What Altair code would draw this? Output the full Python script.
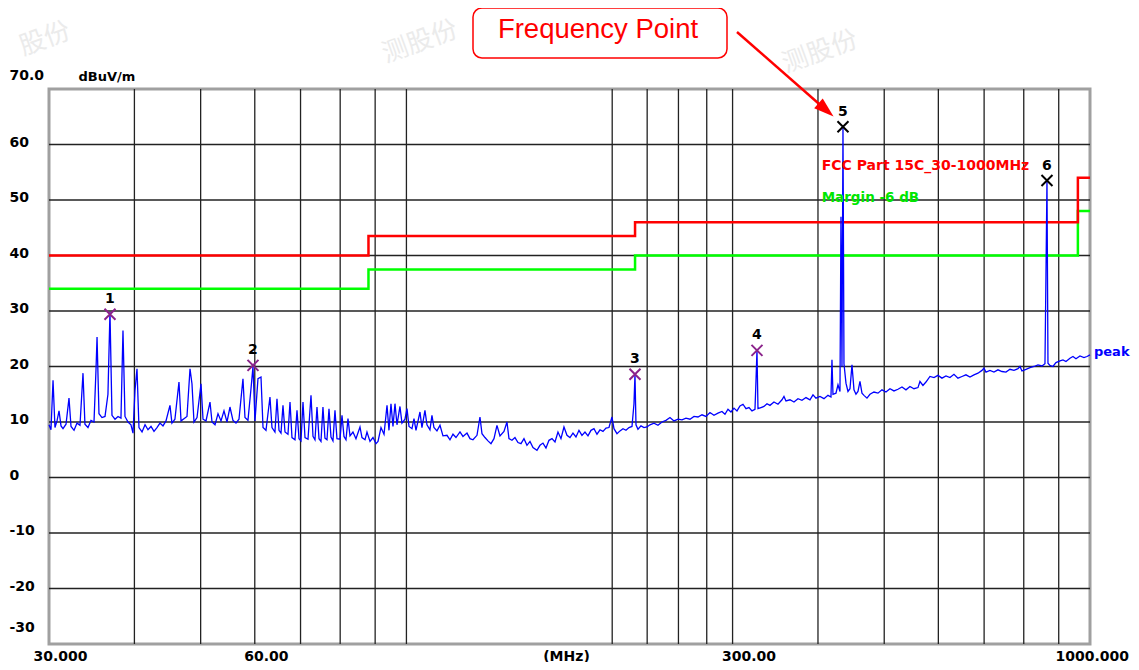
import altair as alt
import pandas as pd

FONT = "DejaVu Sans"
NOTE_FONT = "Liberation Sans"

trace_30_67 = [
    (30.00, 9.5), (30.20, 8.6), (30.41, 17.5), (30.61, 9.0), (30.82, 10.2), (31.03, 12.0), (31.24, 9.3),
    (31.45, 8.8), (31.77, 9.6), (32.09, 14.3), (32.31, 9.2), (32.64, 8.5), (32.97, 9.8), (33.30, 9.4),
    (33.64, 18.8), (33.86, 9.6), (34.21, 9.0), (34.56, 10.3), (34.91, 10.0), (35.15, 19.6), (35.27, 25.3),
    (35.50, 11.5), (35.86, 10.8), (36.23, 11.0), (36.59, 15.0), (36.84, 29.8), (37.09, 11.2), (37.47, 10.5),
    (37.85, 11.0), (38.23, 10.7), (38.49, 26.5), (38.75, 11.0), (39.15, 10.0), (39.54, 9.5), (39.81, 8.0),
    (40.08, 15.7), (40.35, 19.6), (40.62, 9.0), (41.04, 8.2), (41.46, 9.5), (41.87, 8.6), (42.30, 9.2),
    (42.73, 8.3), (43.16, 9.0), (43.60, 9.8), (44.04, 9.3), (44.49, 10.2), (45.09, 13.0), (45.39, 9.8),
    (45.85, 10.5), (46.48, 17.2), (46.80, 10.2), (47.27, 10.6), (47.75, 11.0), (48.24, 19.6), (48.56, 16.9),
    (48.89, 10.0), (49.39, 10.8), (50.06, 16.9), (50.40, 10.5), (50.91, 10.2), (51.60, 13.6), (51.95, 10.0),
    (52.48, 9.5), (53.01, 11.5), (53.55, 10.2), (54.09, 12.0), (54.64, 10.0), (55.19, 12.7), (55.75, 10.3),
    (56.32, 9.8), (56.89, 10.5), (57.66, 17.8), (58.05, 10.8), (58.64, 10.3), (59.24, 16.0), (59.64, 20.0),
    (60.04, 10.2), (60.65, 17.8), (61.27, 18.1), (61.69, 9.0), (62.31, 8.5), (63.15, 14.5), (63.58, 9.0),
    (64.22, 8.2), (64.66, 14.2), (65.10, 8.5), (65.54, 8.0), (65.98, 13.0), (66.43, 8.2), (67.10, 7.8),
]
trace_67_141 = [
    (67.56, 13.6), (68.01, 7.2), (68.70, 6.8), (69.17, 12.1), (69.64, 7.0), (70.11, 6.6), (70.58, 13.6),
    (71.06, 7.2), (71.78, 6.9), (72.51, 14.8), (73.00, 7.4), (73.49, 6.8), (73.99, 12.7), (74.49, 7.0),
    (74.99, 6.5), (75.49, 12.7), (76.00, 7.1), (76.52, 6.8), (77.04, 12.4), (77.56, 7.3), (78.08, 6.6),
    (78.61, 12.1), (79.14, 7.0), (79.95, 6.9), (80.49, 11.2), (81.03, 7.4), (81.58, 6.8), (82.13, 10.6),
    (82.69, 7.5), (83.52, 8.2), (84.37, 7.0), (85.52, 9.1), (86.10, 7.2), (86.98, 6.8), (87.56, 8.2),
    (88.45, 6.5), (89.35, 7.2), (90.26, 6.1), (90.87, 6.5), (91.79, 9.0), (92.73, 7.8), (93.67, 13.0),
    (94.29, 8.5), (94.93, 13.3), (95.57, 9.2), (96.22, 13.3), (96.87, 9.5), (97.85, 12.8), (98.51, 9.8),
    (99.51, 10.5), (100.19, 12.4), (100.87, 9.2), (101.89, 8.8), (102.58, 10.6), (103.27, 8.5), (104.67, 11.8),
    (105.37, 9.0), (106.44, 12.1), (107.16, 9.5), (108.25, 8.6), (108.98, 11.2), (109.71, 9.0), (110.83, 8.4),
    (111.97, 9.4), (113.10, 7.5), (114.64, 7.6), (115.80, 6.8), (116.98, 7.8), (118.17, 7.2), (119.77, 8.2),
    (120.98, 7.4), (122.63, 8.0), (123.87, 7.0), (125.13, 6.8), (126.83, 7.6), (128.11, 10.9), (128.98, 7.9),
    (130.29, 7.2), (131.62, 6.6), (132.95, 6.1), (134.30, 7.0), (135.66, 9.4), (137.04, 7.5), (138.90, 8.3),
    (140.31, 10.0),
]
trace_141_225 = [
    (141.26, 7.0), (142.69, 6.7), (144.14, 7.2), (145.61, 6.3), (147.09, 6.1), (148.58, 7.0), (150.09, 5.8),
    (151.62, 6.5), (153.16, 5.4), (155.23, 4.9), (156.81, 5.8), (158.40, 6.2), (160.01, 5.3), (161.64, 6.7),
    (163.28, 7.0), (164.94, 6.4), (166.61, 8.2), (168.30, 7.0), (170.01, 9.1), (171.74, 7.6), (173.48, 7.2),
    (175.24, 8.0), (177.02, 7.3), (178.82, 8.5), (180.64, 7.6), (182.47, 8.2), (184.33, 7.5), (186.20, 8.5),
    (188.09, 8.8), (190.00, 7.8), (191.94, 8.6), (193.88, 8.3), (195.85, 8.9), (197.84, 9.0), (199.85, 10.9),
    (201.20, 8.8), (203.25, 7.9), (205.31, 8.4), (207.40, 8.8), (209.50, 8.5), (211.63, 9.0), (213.78, 9.2),
    (215.22, 13.3), (215.95, 18.6), (216.68, 9.5), (218.14, 8.7), (220.36, 9.3), (222.60, 9.0), (224.86, 9.1),
]
trace_227_1000 = [
    (227.14, 9.5), (230.22, 9.8), (233.34, 9.4), (236.51, 10.0), (239.72, 10.3), (242.97, 10.8), (246.27, 10.2),
    (249.61, 10.5), (253.00, 10.4), (256.43, 10.7), (259.90, 10.5), (263.43, 11.0), (267.00, 10.9), (270.62, 11.3),
    (274.29, 11.0), (278.01, 11.7), (281.77, 11.2), (285.60, 11.6), (289.47, 11.9), (292.41, 11.4), (295.39, 12.3),
    (298.39, 11.8), (301.42, 12.5), (304.49, 12.0), (307.57, 12.9), (310.70, 13.2), (313.86, 12.4), (317.04, 12.6),
    (320.26, 12.0), (323.52, 12.3), (324.61, 17.4), (325.70, 22.9), (326.80, 12.4), (330.11, 12.6), (333.46, 12.8),
    (336.85, 13.3), (340.28, 13.0), (344.89, 13.6), (349.57, 13.2), (354.32, 14.0), (356.71, 14.6), (359.11, 13.8),
    (363.99, 14.0), (368.93, 13.6), (373.94, 14.2), (379.01, 13.9), (384.16, 14.4), (389.36, 14.0), (393.32, 14.9),
    (397.32, 14.3), (402.70, 14.6), (408.17, 14.2), (413.69, 14.8), (417.89, 14.5), (419.30, 21.2), (420.72, 15.0),
    (424.99, 15.2), (427.87, 16.7), (430.76, 15.5), (432.22, 47.0), (433.68, 20.0), (435.14, 63.2), (436.61, 20.5),
    (439.56, 17.0), (442.53, 15.5), (445.52, 16.0), (448.54, 20.3), (451.57, 15.8), (454.62, 15.0), (457.69, 15.5),
    (460.78, 17.3), (463.90, 15.2), (467.04, 14.8), (471.77, 14.3), (476.56, 15.0), (483.02, 15.4), (489.58, 15.2),
    (496.22, 15.8), (502.94, 15.4), (509.78, 16.0), (516.68, 15.6), (523.69, 15.9), (530.80, 16.3), (538.00, 15.8),
    (545.30, 16.4), (552.69, 16.0), (560.19, 16.2), (563.98, 17.3), (569.69, 16.6), (575.47, 17.2), (583.29, 18.2),
    (591.20, 18.0), (599.22, 18.4), (607.35, 17.9), (615.59, 18.3), (623.94, 18.0), (632.40, 18.6), (640.98, 17.9),
    (649.68, 18.2), (658.49, 18.5), (667.43, 18.1), (676.48, 18.5), (685.65, 18.8), (694.96, 19.3), (699.65, 19.7),
    (704.37, 19.0), (713.93, 19.3), (723.61, 19.0), (733.43, 19.4), (743.39, 19.1), (753.47, 19.0), (763.69, 19.5),
    (774.05, 19.3), (784.55, 19.6), (789.85, 20.0), (795.18, 19.2), (805.97, 19.5), (816.91, 19.8), (827.99, 20.0),
    (839.23, 20.3), (850.61, 20.1), (859.26, 20.5), (862.16, 36.5), (865.07, 53.5), (867.98, 20.6), (873.84, 20.2),
    (882.70, 20.0), (891.65, 20.7), (903.77, 21.0), (912.97, 21.2), (922.26, 20.9), (934.73, 21.5), (944.24, 21.8),
    (953.85, 21.4), (966.75, 21.9), (979.85, 21.6), (989.83, 21.8), (1000.0, 22.1),
]

# ---- limit and margin lines ----
limit_freq = [30, 88, 216, 960, 1000]
limit_level = [40, 43.5, 46, 54, 54]
margin_level = [34, 37.5, 40, 48, 48]
limit_name = "FCC Part 15C_30-1000MHz"
margin_name = "Margin -6 dB"

# ---- marked frequency points ----
marker_id = ["1", "2", "3", "4", "5", "6"]
marker_freq = [36.84, 59.64, 215.95, 325.70, 435.14, 865.07]
marker_level = [29.4, 20.2, 18.6, 22.9, 63.2, 53.5]
marker_status = ["under", "under", "under", "under", "over", "over"]

# ---- axes ----
x_tick_values = [30, 60, 300, 1000]
x_tick_labels = ["30.000", "60.00", "300.00", "1000.000"]
y_tick_values = [-30, -20, -10, 0, 10, 20, 30, 40, 50, 60, 70]
y_tick_labels = ["-30", "-20", "-10", "0", "10", "20", "30", "40", "50", "60", "70.0"]
x_grid = [40, 50, 60, 70, 80, 90, 100, 200, 225, 250, 275, 300, 400, 500, 600, 700, 800, 900]
y_grid = [-20, -10, 0, 10, 20, 30, 40, 50, 60]

# annotation anchors (data coordinates)
legend_anchor_freq = 405.0
legend_limit_level = 56.2
legend_margin_level = 50.3
trace_name = "peak"
callout_text = "Frequency Point"
watermark_text = ["股份", "测股份", "测股份"]


def label_expr(vals, labels):
    e = "''"
    for v, l in zip(reversed(vals), reversed(labels)):
        e = f"datum.value == {v} ? '{l}' : {e}"
    return e


trace_df = pd.DataFrame(trace_30_67 + trace_67_141 + trace_141_225 + trace_227_1000,
                        columns=["freq", "level"])
limit_df = pd.DataFrame({"freq": limit_freq, "level": limit_level})
margin_df = pd.DataFrame({"freq": limit_freq, "level": margin_level})
marker_df = pd.DataFrame({"id": marker_id, "freq": marker_freq, "level": marker_level,
                          "status": marker_status})

x_scale = alt.Scale(type="log", domain=[30, 1000], nice=False)
y_scale = alt.Scale(domain=[-30, 70], nice=False, zero=False)

x_axis = alt.Axis(
    values=x_tick_values, labelExpr=label_expr(x_tick_values, x_tick_labels),
    grid=False, ticks=False, tickSize=0, domain=False,
    labelFont=FONT, labelFontSize=14, labelFontWeight="bold", labelColor="black",
    labelAlign="left", labelBaseline="top", labelPadding=5, labelFlush=False, labelOverlap=False,
    labelOffset=alt.ExprRef(expr="datum.value == 30 ? -16 : datum.value == 1000 ? -35 : -11"),
    title="(MHz)", titleFont=FONT, titleFontSize=14, titleFontWeight="bold", titleColor="black",
    titleX=517, titleY=5, titleAlign="center", titleBaseline="top", titleAngle=0,
)
y_axis = alt.Axis(
    values=y_tick_values, labelExpr=label_expr(y_tick_values, y_tick_labels),
    grid=False, ticks=False, tickSize=0, domain=False,
    labelFont=FONT, labelFontSize=14, labelFontWeight="bold", labelColor="black",
    labelAlign="left", labelBaseline="middle", labelPadding=40, labelFlush=False, labelOverlap=False,
    labelOffset=alt.ExprRef(expr="datum.value == 70 ? -13.5 : datum.value == -30 ? -17 : -2.5"),
    title="dBuV/m", titleFont=FONT, titleFontSize=13, titleFontWeight="bold", titleColor="black",
    titleAngle=0, titleX=29, titleY=-13, titleAlign="left", titleBaseline="middle",
)

X = alt.X("freq:Q", scale=x_scale, axis=x_axis)
Y = alt.Y("level:Q", scale=y_scale, axis=y_axis)

grid_x = alt.Chart(pd.DataFrame({"freq": x_grid})).mark_rule(
    color="#222222", strokeWidth=1.3).encode(x=X)
grid_y = alt.Chart(pd.DataFrame({"level": y_grid})).mark_rule(
    color="#222222", strokeWidth=1.3).encode(y=Y)

margin_line = alt.Chart(margin_df).mark_line(
    color="#00ff00", strokeWidth=2.5, interpolate="step-after").encode(x=X, y=Y)
limit_line = alt.Chart(limit_df).mark_line(
    color="#ff0000", strokeWidth=2.5, interpolate="step-after").encode(x=X, y=Y)

trace = alt.Chart(trace_df).mark_line(color="#0000ff", strokeWidth=1.3).encode(x=X, y=Y)

markers = alt.Chart(marker_df).mark_point(
    shape="M-1,-1L1,1M-1,1L1,-1", filled=False, strokeWidth=2, size=121, opacity=1
).encode(
    x=X, y=Y,
    color=alt.Color("status:N", scale=alt.Scale(domain=["under", "over"], range=["#8b238b", "#000000"]),
                    legend=None),
)
marker_labels = alt.Chart(marker_df).mark_text(
    font=FONT, fontSize=14, fontWeight="bold", color="black", dy=-15, baseline="middle"
).encode(x=X, y=Y, text="id:N")

limit_text = alt.Chart(pd.DataFrame({
    "freq": [legend_anchor_freq], "level": [legend_limit_level], "name": [limit_name]})).mark_text(
    font=FONT, fontSize=14, fontWeight="bold", align="left", baseline="middle", color="#ff0000"
).encode(x=X, y=Y, text="name:N")
margin_text = alt.Chart(pd.DataFrame({
    "freq": [legend_anchor_freq], "level": [legend_margin_level], "name": [margin_name]})).mark_text(
    font=FONT, fontSize=13.5, fontWeight="bold", align="left", baseline="middle", color="#00e600"
).encode(x=X, y=Y, text="name:N")

peak_df = pd.DataFrame({"freq": [trace_227_1000[-1][0]], "level": [22.6], "name": [trace_name]})
peak_text = alt.Chart(peak_df).mark_text(
    font=FONT, fontSize=13, fontWeight="bold", color="#0000ff", align="left", baseline="middle", dx=4
).encode(x=X, y=Y, text="name:N")

note_df = pd.DataFrame({"note": [callout_text]})
box = alt.Chart(note_df).mark_rect(
    fill="white", stroke="#ff0000", strokeWidth=1.5, cornerRadius=9
).encode(x=alt.value(424), x2=alt.value(678), y=alt.value(-81), y2=alt.value(-31))
note = alt.Chart(note_df).mark_text(
    font=NOTE_FONT, fontSize=27.5, color="#ff0000", align="center", baseline="alphabetic"
).encode(x=alt.value(549), y=alt.value(-51), text="note:N")
arrow_line = alt.Chart(note_df).mark_rule(color="#ff0000", strokeWidth=2.5).encode(
    x=alt.value(688), y=alt.value(-57), x2=alt.value(777), y2=alt.value(21))
arrow_head = alt.Chart(note_df).mark_point(
    shape="M0,-1L0.65,1L-0.65,1Z", filled=True, color="#ff0000", size=400, angle=131,
    opacity=1, strokeWidth=0
).encode(x=alt.value(777), y=alt.value(21))


def watermark(text, px, py):
    return alt.Chart(pd.DataFrame({"w": [text]})).mark_text(
        font="Noto Sans CJK SC", fontSize=26, color="#ebebeb", angle=340, align="center", baseline="middle"
    ).encode(x=alt.value(px), y=alt.value(py), text="w:N")


chart = alt.layer(
    watermark(watermark_text[0], -4, -50),
    watermark(watermark_text[1], 371, -47),
    watermark(watermark_text[2], 771, -37),
    grid_x, grid_y, margin_line, limit_line, trace, markers, marker_labels,
    limit_text, margin_text, peak_text, box, note, arrow_line, arrow_head,
).properties(
    width=1041, height=555,
    autosize=alt.AutoSizeParams(type="none"),
    padding={"left": 41, "top": 81, "right": 41, "bottom": 18},
    background="white",
).configure_view(stroke="#a0a0a0", strokeWidth=3)

chart.save("out.html", embed_options={"renderer": "svg", "actions": False})
